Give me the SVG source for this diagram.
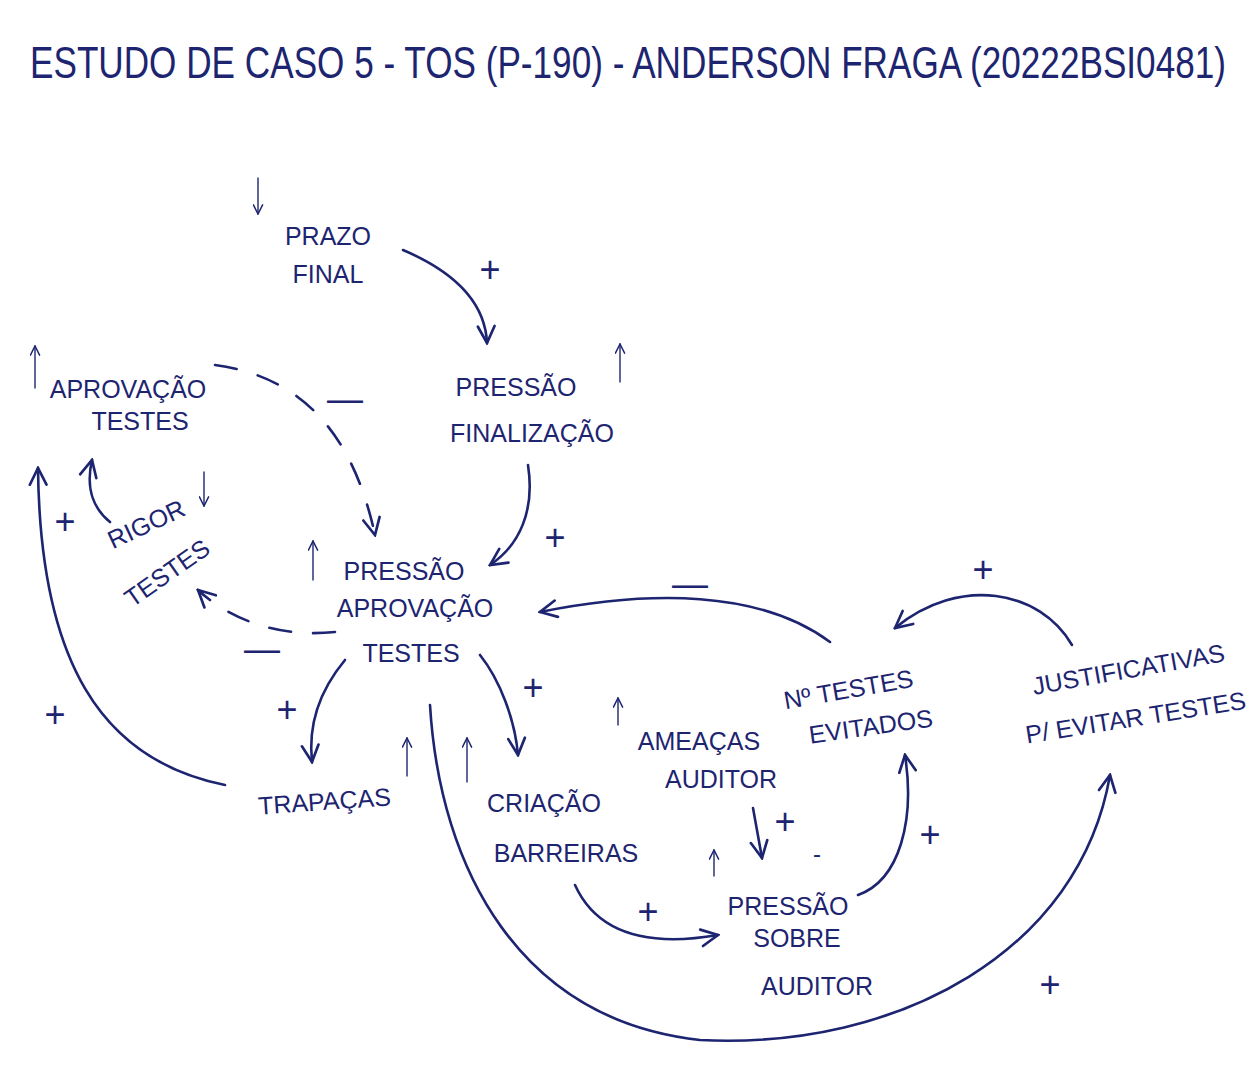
<svg xmlns="http://www.w3.org/2000/svg" width="1248" height="1066" viewBox="0 0 1248 1066">
<defs>
<style>
text{font-family:"Liberation Sans","DejaVu Sans",sans-serif;fill:#1d2470;}
.n{font-size:25px;text-anchor:middle;}
.t{font-size:31px;}
.s{font-size:36px;text-anchor:middle;}
.c{fill:none;stroke:#1d2470;stroke-width:2.6;stroke-linecap:round;}
.d{stroke-dasharray:22 22;}
.a{fill:none;stroke:#1d2470;stroke-width:1.4;stroke-linecap:round;}
</style>
<marker id="h" viewBox="0 0 12 12" refX="11" refY="6" markerWidth="20" markerHeight="20" markerUnits="userSpaceOnUse" orient="auto">
<path d="M1,1 L11,6 L1,11" fill="none" stroke="#1d2470" stroke-width="1.6" stroke-linecap="round"/>
</marker>
<marker id="sh" viewBox="0 0 12 12" refX="11" refY="6" markerWidth="11" markerHeight="11" markerUnits="userSpaceOnUse" orient="auto">
<path d="M1,1 L11,6 L1,11" fill="none" stroke="#1d2470" stroke-width="1.6" stroke-linecap="round"/>
</marker>
</defs>
<rect width="1248" height="1066" fill="#ffffff"/>
<text class="t" transform="translate(30,78) scale(1,1.45)" x="0" y="0" textLength="1196" lengthAdjust="spacingAndGlyphs">ESTUDO DE CASO 5 - TOS (P-190) - ANDERSON FRAGA (20222BSI0481)</text>

<g id="connectors">
<path class="c" d="M403,250 C450,270 485,300 487,343" marker-end="url(#h)"/>
<path class="c d" d="M215,365 C290,375 350,420 375,535" marker-end="url(#h)"/>
<path class="c" d="M528,465 C535,510 520,545 490,565" marker-end="url(#h)"/>
<path class="c d" d="M335,632 C280,638 230,620 198,590" marker-end="url(#h)"/>
<path class="c" d="M110,522 C95,510 85,490 92,460" marker-end="url(#h)"/>
<path class="c" d="M225,785 C100,760 40,660 38,468" marker-end="url(#h)"/>
<path class="c" d="M345,660 C320,690 308,725 312,762" marker-end="url(#h)"/>
<path class="c" d="M480,655 C500,680 515,720 518,755" marker-end="url(#h)"/>
<path class="c" d="M830,642 C760,590 650,590 540,612" marker-end="url(#h)"/>
<path class="c" d="M1072,645 C1040,590 960,575 895,628" marker-end="url(#h)"/>
<path class="c" d="M753,808 L762,858" marker-end="url(#h)"/>
<path class="c" d="M575,885 C600,940 660,945 718,935" marker-end="url(#h)"/>
<path class="c" d="M858,895 C900,880 915,820 905,755" marker-end="url(#h)"/>
<path class="c" d="M430,705 C440,870 520,1020 700,1040 C900,1050 1080,950 1110,775" marker-end="url(#h)"/>
<g id="trend-arrows">
<path class="a" d="M258,178 L258,214" marker-end="url(#sh)"/>
<path class="a" d="M35,388 L35,346" marker-end="url(#sh)"/>
<path class="a" d="M620,382 L620,344" marker-end="url(#sh)"/>
<path class="a" d="M204,472 L204,506" marker-end="url(#sh)"/>
<path class="a" d="M313,580 L313,541" marker-end="url(#sh)"/>
<path class="a" d="M407,776 L407,738" marker-end="url(#sh)"/>
<path class="a" d="M467,782 L467,738" marker-end="url(#sh)"/>
<path class="a" d="M618,725 L618,698" marker-end="url(#sh)"/>
<path class="a" d="M714,876 L714,850" marker-end="url(#sh)"/>
</g>
<g id="signs">
<text class="s" x="490" y="282">+</text>
<text class="s" x="555" y="550">+</text>
<text class="s" x="287" y="722">+</text>
<text class="s" x="533" y="700">+</text>
<text class="s" x="65" y="534">+</text>
<text class="s" x="55" y="727">+</text>
<text class="s" x="983" y="582">+</text>
<text class="s" x="785" y="834">+</text>
<text class="s" x="648" y="924">+</text>
<text class="s" x="930" y="847">+</text>
<text class="s" x="1050" y="997">+</text>
<text class="s" x="345" y="411">—</text>
<text class="s" x="262" y="661">—</text>
<text class="s" x="690" y="596">—</text>
<text class="s" x="817" y="862" style="font-size:24px">-</text>
</g>
</g>

<g id="prazo-final"><text class="n" x="328" y="245">PRAZO</text><text class="n" x="328" y="283">FINAL</text></g>
<g id="aprovacao-testes"><text class="n" x="128" y="398">APROVAÇÃO</text><text class="n" x="140" y="430">TESTES</text></g>
<g id="pressao-finalizacao"><text class="n" x="516" y="396">PRESSÃO</text><text class="n" x="532" y="442">FINALIZAÇÃO</text></g>
<g id="rigor-testes"><text class="n" transform="translate(150,532) rotate(-25)">RIGOR</text><text class="n" transform="translate(172,580) rotate(-35)">TESTES</text></g>
<g id="pressao-aprovacao-testes"><text class="n" x="404" y="580">PRESSÃO</text><text class="n" x="415" y="617">APROVAÇÃO</text><text class="n" x="411" y="662">TESTES</text></g>
<g id="trapacas"><text class="n" transform="translate(325,810) rotate(-4)">TRAPAÇAS</text></g>
<g id="criacao-barreiras"><text class="n" x="544" y="812">CRIAÇÃO</text><text class="n" x="566" y="862">BARREIRAS</text></g>
<g id="ameacas-auditor"><text class="n" x="699" y="750">AMEAÇAS</text><text class="n" x="721" y="788">AUDITOR</text></g>
<g id="n-testes-evitados"><text class="n" transform="translate(850,698) rotate(-10)">Nº TESTES</text><text class="n" transform="translate(872,735) rotate(-8)">EVITADOS</text></g>
<g id="justificativas"><text class="n" transform="translate(1130,678) rotate(-10)">JUSTIFICATIVAS</text><text class="n" transform="translate(1137,726) rotate(-9)">P/ EVITAR TESTES</text></g>
<g id="pressao-sobre-auditor"><text class="n" x="788" y="915">PRESSÃO</text><text class="n" x="797" y="947">SOBRE</text><text class="n" x="817" y="995">AUDITOR</text></g>
</svg>
